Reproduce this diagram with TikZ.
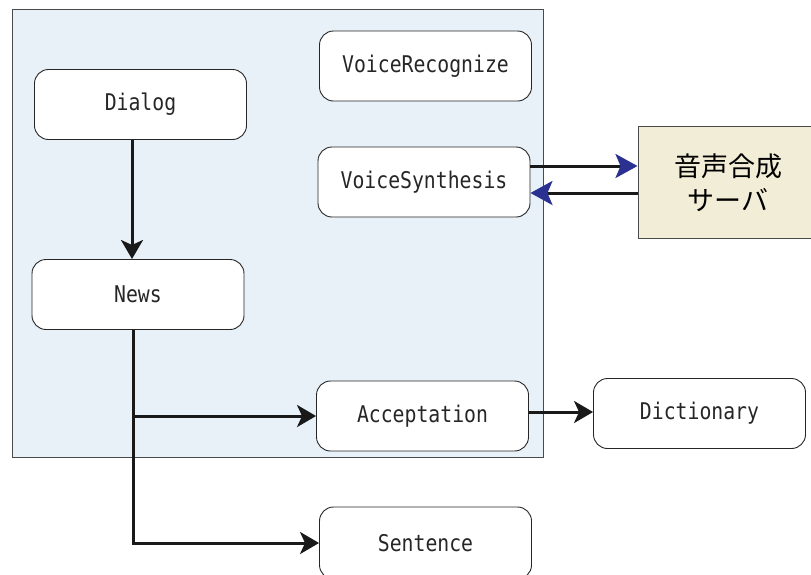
\documentclass[tikz,border=0pt]{standalone}
\usepackage{fontspec}
\newfontfamily\monof[FakeStretch=0.86]{DejaVu Sans Mono}
\newfontfamily\cjk{Noto Sans CJK JP}
\usetikzlibrary{arrows.meta}
\definecolor{panelblue}{HTML}{E8F1F8}
\definecolor{serverfill}{HTML}{F2EDD6}
\definecolor{tipblue}{HTML}{2B3190}
\definecolor{edgegray}{HTML}{4A4A4A}
\tikzset{
  modbox/.style={draw=black!85, line width=0.9pt, fill=white, rounded corners=14pt,
    minimum width=212pt, minimum height=70pt, inner sep=0pt,
    font=\monof\fontsize{23}{26}\selectfont, text=black!85},
  flow/.style={line width=3pt, draw=black!90, -{Stealth[length=19pt,width=22pt,inset=5pt]}},
  bflow/.style={line width=3pt, draw=black!90, -{Stealth[length=22pt,width=24pt,inset=5pt,color=tipblue]}},
}
\begin{document}
\begin{tikzpicture}[x=1pt,y=-1pt]
\useasboundingbox (0,0) rectangle (811,574);
\clip (0,0) rectangle (811,574);
\node[draw=edgegray, line width=1pt, fill=panelblue, minimum width=531pt, minimum height=448pt, inner sep=0pt] (panel) at (277.5,233) {};
\node[modbox] (dialog) at (140.5,104.5) {Dialog};
\node[modbox] (news) at (138,294.5) {News};
\node[modbox] (vrec) at (425.5,66) {VoiceRecognize};
\node[modbox] (vsyn) at (424,182) {VoiceSynthesis};
\node[modbox] (accept) at (422.5,416) {Acceptation};
\node[modbox] (dict) at (699.5,413.5) {Dictionary};
\node[modbox, minimum height=72pt] (sent) at (425.5,543) {Sentence};
\node[draw=edgegray, line width=1pt, fill=serverfill, minimum width=180pt, minimum height=112pt, inner sep=0pt] (server) at (728,182) {};
\node[font=\cjk\fontsize{27}{34}\selectfont, align=center, inner sep=0pt] (servertext) at (728,183) {音声合成\\サーバ};
\draw[flow] (132,140) -- (132,259);
\draw[flow] (133,330) |- (accept.west);
\draw[flow] (133,330) |- (sent.west);
\draw[flow] (accept.east |- 0,412) -- (dict.west |- 0,412);
\draw[bflow] (vsyn.east |- 0,166) -- (server.west |- 0,166);
\draw[bflow] (server.west |- 0,193) -- (vsyn.east |- 0,193);
\end{tikzpicture}
\end{document}
